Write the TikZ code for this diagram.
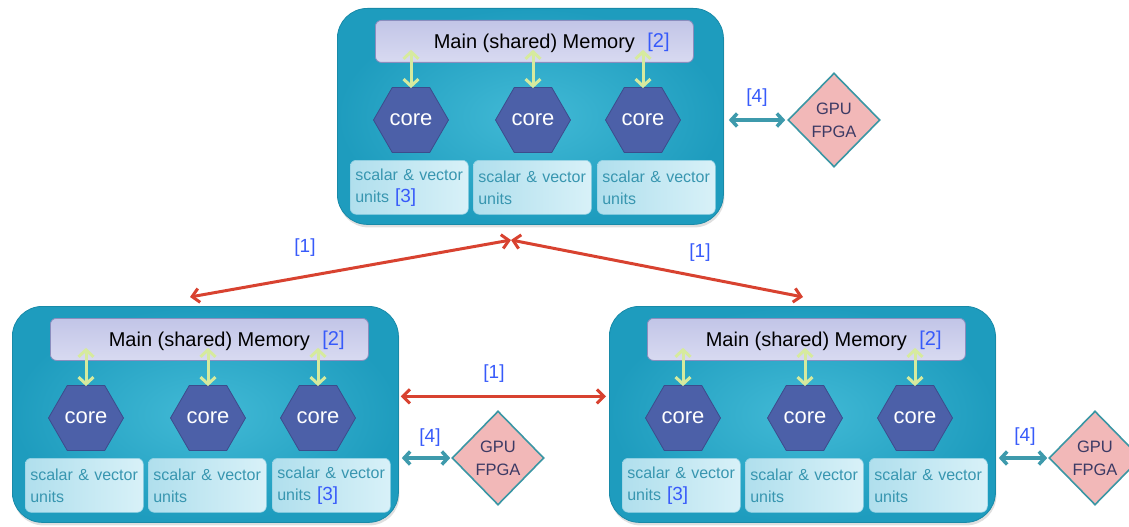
\documentclass[tikz,border=0pt]{standalone}
\usepackage{fontspec}
\setmainfont{Liberation Sans}
\usetikzlibrary{shapes.geometric,arrows.meta,shadows,calc}
\definecolor{boxteal}{RGB}{30,156,190}
\definecolor{boxlight}{RGB}{66,186,214}
\definecolor{boxedge}{RGB}{24,138,168}
\definecolor{memtop}{RGB}{194,197,231}
\definecolor{membot}{RGB}{216,218,241}
\definecolor{memedge}{RGB}{138,141,190}
\definecolor{coreblue}{RGB}{76,96,168}
\definecolor{coreedge}{RGB}{60,76,140}
\definecolor{unitleft}{RGB}{176,223,237}
\definecolor{unitright}{RGB}{216,241,248}
\definecolor{unitedge}{RGB}{150,210,228}
\definecolor{unittext}{RGB}{56,150,176}
\definecolor{lblblue}{RGB}{55,90,250}
\definecolor{accred}{RGB}{216,66,48}
\definecolor{accteal}{RGB}{62,154,172}
\definecolor{accyellow}{RGB}{214,234,158}
\definecolor{gpupink}{RGB}{242,184,184}
\definecolor{gpuedge}{RGB}{58,150,164}
\definecolor{gputext}{RGB}{60,58,100}
\tikzset{
  outerbox/.style={draw=boxedge, line width=0.8pt, rounded corners=30pt,
    inner color=boxlight, outer color=boxteal,
    minimum width=386pt, minimum height=216pt, inner sep=0pt,
    drop shadow={opacity=0.25, shadow xshift=1pt, shadow yshift=-3pt}},
  membar/.style={draw=memedge, line width=0.8pt, rounded corners=6pt,
    top color=memtop, bottom color=membot,
    minimum width=318pt, minimum height=42pt, inner sep=0pt},
  memtxt/.style={font=\fontsize{20}{24}\selectfont, text=black, inner sep=0pt},
  corehex/.style={regular polygon, regular polygon sides=6, minimum size=75pt,
    inner sep=0pt, fill=coreblue, draw=coreedge, line width=0.8pt,
    text=white, font=\fontsize{22}{26}\selectfont},
  unitbox/.style={draw=unitedge, line width=0.6pt, rounded corners=6pt,
    left color=unitleft, right color=unitright,
    minimum width=118pt, minimum height=54pt, inner xsep=5pt, inner ysep=0pt,
    text width=108pt, align=left, text=unittext,
    font=\fontsize{16}{22}\selectfont},
  lbl/.style={text=lblblue, font=\fontsize{19}{22}\selectfont, inner sep=0pt},
  gpubox/.style={diamond, draw=gpuedge, line width=1.6pt, fill=gpupink,
    minimum width=92pt, minimum height=94pt, inner sep=0pt, align=center,
    text=gputext, font=\fontsize{16.5}{23}\selectfont},
  yarrow/.style={draw=accyellow, line width=3pt,
    {Straight Barb[length=7pt,width=15pt]}-{Straight Barb[length=7pt,width=15pt]}},
  rdarrow/.style={draw=accred, line width=3pt,
    {Straight Barb[length=7pt,width=14pt]}-{Straight Barb[length=7pt,width=14pt]}},
  tarrow/.style={draw=accteal, line width=3.5pt,
    {Straight Barb[length=6pt,width=13pt]}-{Straight Barb[length=6pt,width=13pt]}},
}
% name, x, y, texts of the three units
\newcommand\smpblock[6]{%
  \node[outerbox, anchor=north west] (#1) at (#2,#3) {};
  \node[membar, anchor=north west] (#1m) at ($(#1.north west)+(38,12)$) {};
  \node[memtxt] (#1mt) at ($(#1m.center)+(0,2)$) {Main (shared) Memory};
  \node[lbl, font=\fontsize{20}{24}\selectfont, anchor=west] (#1ml) at ($(#1mt.east)+(12,-1)$) {[2]};
  \node[corehex] (#1c1) at ($(#1.north west)+(74,112)$) {core};
  \node[corehex] (#1c2) at ($(#1.north west)+(196,112)$) {core};
  \node[corehex] (#1c3) at ($(#1.north west)+(306,112)$) {core};
  \node[unitbox, anchor=north west] (#1u1) at ($(#1.north west)+(13,152)$) {#4};
  \node[unitbox, anchor=north west] (#1u2) at ($(#1.north west)+(136,152)$) {#5};
  \node[unitbox, anchor=north west] (#1u3) at ($(#1.north west)+(260,152)$) {#6};
  \foreach \k in {1,2,3}{
    \draw[yarrow] ([yshift=13pt]#1c\k.north |- #1m.south) -- ([yshift=-1pt]#1c\k.north);
  }
}
\newcommand\unitplain{scalar \& vector\\units}
\newcommand\unitref{scalar \& vector\\units\hspace{6pt}{\color{lblblue}\fontsize{19}{22}\selectfont[3]}}
\begin{document}
\begin{tikzpicture}[x=1pt,y=-1pt]
\useasboundingbox (0,0) rectangle (1129,527);
\smpblock{top}{337}{8}{\unitref}{\unitplain}{\unitplain}
\smpblock{bl}{12}{306}{\unitplain}{\unitplain}{\unitref}
\smpblock{br}{609}{306}{\unitref}{\unitplain}{\unitplain}

% accelerators
\node[gpubox] (g1) at (834,120) {GPU\\FPGA};
\node[gpubox] (g2) at (498,458) {GPU\\FPGA};
\node[gpubox] (g3) at (1095,458) {GPU\\FPGA};
\draw[tarrow] ([xshift=5pt]top.east |- g1.west) -- ([xshift=-2pt]g1.west);
\draw[tarrow] ([xshift=3pt]bl.east |- g2.west) -- ([xshift=-1pt]g2.west);
\draw[tarrow] ([xshift=3pt]br.east |- g3.west) -- ([xshift=-1pt]g3.west);
\node[lbl] (l4a) at (757,98) {[4]};
\node[lbl] (l4b) at (430,438) {[4]};
\node[lbl] (l4c) at (1025,437) {[4]};

% interconnect
\coordinate (apex) at (511,240);
\coordinate (lend) at (190,297);
\coordinate (rend) at (803,297);
\draw[rdarrow] (lend) -- (apex);
\draw[rdarrow] (rend) -- (apex);
\draw[rdarrow] ([xshift=2pt,yshift=18pt]bl.east) -- ([xshift=-3pt,yshift=18pt]br.west);
\node[lbl] (l1a) at (305,248) {[1]};
\node[lbl] (l1b) at (700,253) {[1]};
\node[lbl] (l1c) at (494,374) {[1]};
\end{tikzpicture}
\end{document}
